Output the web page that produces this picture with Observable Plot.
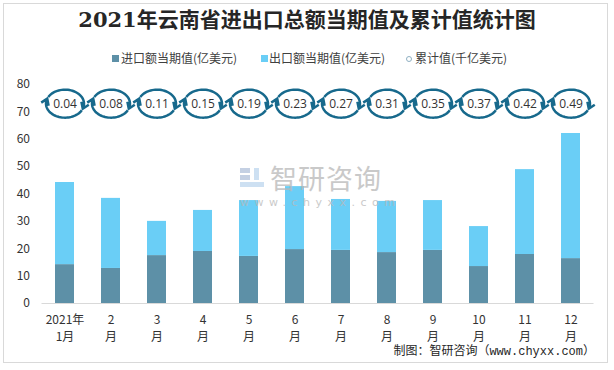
<!DOCTYPE html>
<html>
<head>
<meta charset="utf-8">
<script src="https://cdn.jsdelivr.net/npm/d3@7"></script>
<script src="https://cdn.jsdelivr.net/npm/@observablehq/plot@0.6"></script>
<style>
  body { margin: 0; background: #fff; }
  #wrap { position: relative; width: 614px; height: 370px; background: #fff; overflow: hidden; font-family: "Noto Sans CJK SC", sans-serif; }
  .frame { position: absolute; left: 3px; top: 3px; width: 605px; height: 360px; border: 1px solid #d9d9d9; box-sizing: border-box; }
  #title { position: absolute; top: 6px; left: 0; width: 614px; text-align: center; font-weight: bold; font-size: 21px; font-family: "DejaVu Serif", "Noto Sans CJK SC", serif; color: #262626; line-height: 28px; }
  .lg { position: absolute; top: 50px; font-size: 12px; color: #404040; line-height: 16px; white-space: nowrap; }
  .sw { position: absolute; width: 7px; height: 7px; top: 55px; }
  #chart { position: absolute; left: 0; top: 62px; }
  #footer { position: absolute; top: 344px; right: 19px; font-size: 12px; line-height: 16px; font-family: "Liberation Mono", "Noto Sans CJK SC", monospace; color: #262626; white-space: nowrap; }
  #wm1 { position: absolute; left: 270px; top: 163px; font-size: 27px; line-height: 30px; color: #b8b8b8; opacity: 0.75; letter-spacing: 1px; }
  #wm2 { position: absolute; left: 240px; top: 196px; font-size: 11px; line-height: 13px; color: #b8b8b8; opacity: 0.75; letter-spacing: 5.5px; font-family: "DejaVu Sans", sans-serif; }
  #logo { position: absolute; left: 239px; top: 166px; width: 26px; height: 24px; opacity: 0.5; }
</style>
</head>
<body>
<div id="wrap">
  <div class="frame"></div>
  <div id="title">2021年云南省进出口总额当期值及累计值统计图</div>
  <div class="sw" style="left:112px;background:#5d90a7"></div>
  <div class="lg" style="left:121px">进口额当期值(亿美元)</div>
  <div class="sw" style="left:261px;background:#6acef6"></div>
  <div class="lg" style="left:269px">出口额当期值(亿美元)</div>
  <div class="sw" style="left:406px;width:6px;height:6px;border:1px solid #8fb0c2;border-radius:50%;box-sizing:border-box;top:56px"></div>
  <div class="lg" style="left:415px">累计值(千亿美元)</div>
  <div id="chart"></div>
  <svg id="logo" viewBox="0 0 26 24"><rect x="1" y="2" width="10" height="5" fill="#8aa3c8"/><rect x="1" y="9" width="10" height="5" fill="#8aa3c8"/><rect x="1" y="16" width="24" height="5" fill="#9cc3e6"/><rect x="15" y="2" width="5" height="12" fill="#9cc3e6"/></svg>
  <div id="wm1">智研咨询</div>
  <div id="wm2">www.chyxx.com</div>
  <div id="footer">制图：智研咨询（www.chyxx.com）</div>
</div>
<script>
const months = ["2021年\n1月", "2\n月", "3\n月", "4\n月", "5\n月", "6\n月", "7\n月", "8\n月", "9\n月", "10\n月", "11\n月", "12\n月"];
const importVals = [14.2, 12.8, 17.5, 19.0, 17.2, 19.7, 19.4, 18.6, 19.4, 13.5, 17.9, 16.4];
const exportVals = [30.0, 25.6, 12.5, 15.0, 20.4, 23.0, 18.6, 18.7, 18.2, 14.6, 31.0, 45.7];
const cumulative = [0.04, 0.08, 0.11, 0.15, 0.19, 0.23, 0.27, 0.31, 0.35, 0.37, 0.42, 0.49];
const yTicks = [0, 10, 20, 30, 40, 50, 60, 70, 80];
const seriesNames = ["进口额当期值(亿美元)", "出口额当期值(亿美元)"];
const seriesColors = ["#5d90a7", "#6acef6"];

const table = months.flatMap((m, i) => [
  {month: m, series: seriesNames[0], value: importVals[i]},
  {month: m, series: seriesNames[1], value: exportVals[i]}
]);
const cumTable = months.map((m, i) => ({month: m, value: cumulative[i]}));

// recycle-style marker: two arrowed arcs
const recycle = {
  draw(ctx) {
    const rx = 19, ry = 14;
    const arc = (t0, t1) => {
      const n = 36;
      for (let i = 0; i <= n; i++) {
        const t = t0 + (t1 - t0) * i / n;
        const x = rx * Math.cos(t), y = ry * Math.sin(t);
        if (i === 0) ctx.moveTo(x, y); else ctx.lineTo(x, y);
      }
      const ex = rx * Math.cos(t1), ey = ry * Math.sin(t1);
      let dx = -rx * Math.sin(t1), dy = ry * Math.cos(t1);
      const L = Math.hypot(dx, dy); dx /= L; dy /= L;
      const nx = -dy, ny = dx;
      const a = 5, b = 4;
      ctx.moveTo(ex - a * dx + b * nx, ey - a * dy + b * ny);
      ctx.lineTo(ex + 1 * dx, ey + 1 * dy);
      ctx.lineTo(ex - a * dx - b * nx, ey - a * dy - b * ny);
    };
    arc(Math.PI + 0.5, 2 * Math.PI + 0.3);
    arc(0.5, Math.PI + 0.3);
  }
};

const chart = Plot.plot({
  width: 614,
  height: 285,
  marginLeft: 41.5,
  marginRight: 20.5,
  marginTop: 22,
  marginBottom: 44,
  style: {background: "transparent", fontFamily: "'Noto Sans CJK SC', sans-serif", fontSize: "12px", color: "#333"},
  x: {domain: months, paddingInner: 0.59, paddingOuter: 0.295, label: null},
  y: {domain: [0, 80], label: null},
  color: {domain: seriesNames, range: seriesColors},
  marks: [
    Plot.barY(table, Plot.stackY({x: "month", y: "value", fill: "series"})),
    Plot.ruleY([0], {stroke: "#d9d9d9", strokeWidth: 1}),
    Plot.dot(cumTable, {x: "month", y: () => 73, symbol: recycle, stroke: "#17698c", strokeWidth: 2.5, fill: "none", r: 10}),
    Plot.text(cumTable, {x: "month", y: () => 73, text: d => d.value.toFixed(2), fill: "#333", fontSize: 12, fontFamily: "'Open Sans', sans-serif"}),
    Plot.axisY({ticks: yTicks, tickSize: 0, tickPadding: 12, label: null, fontSize: 12, fill: "#333"}),
    Plot.axisX({tickSize: 0, tickPadding: 9, label: null, fontSize: 12, lineHeight: 1.4, fill: "#333"})
  ]
});
document.getElementById("chart").appendChild(chart);
</script>
</body>
</html>
